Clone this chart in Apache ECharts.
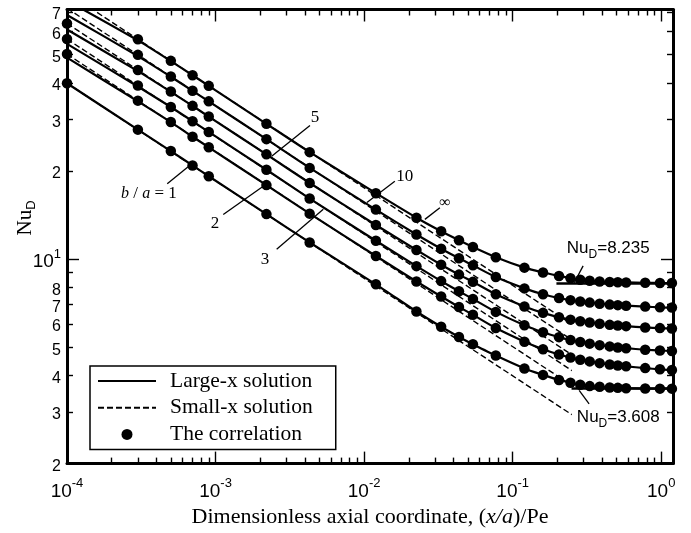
<!DOCTYPE html>
<html><head><meta charset="utf-8">
<script src="https://cdn.jsdelivr.net/npm/echarts@6/dist/echarts.min.js"></script>
<style>html,body{margin:0;padding:0;background:#fff}#c{width:691px;height:533px}</style>
</head><body><div id="c"></div>
<script>
// ---- data ----
const xDots = [1e-4, 3e-4, 5e-4, 7e-4, 9e-4, 2.2e-3, 4.3e-3, 1.2e-2, 2.25e-2, 3.3e-2, 4.35e-2, 5.4e-2, 7.7e-2, 0.12, 0.16, 0.205, 0.245, 0.285, 0.33, 0.385, 0.45, 0.51, 0.58, 0.78, 0.98, 1.18];
// correlation (dots); null = not visible in the plot
const dotA1   = [39.9, 27.7, 23.4, 20.9, 19.2, 14.25, 11.4, 8.2, 6.62, 5.87, 5.42, 5.12, 4.68, 4.23, 4.02, 3.86, 3.78, 3.72, 3.68, 3.66, 3.64, 3.63, 3.62, 3.61, 3.608, 3.608];
const dotA2   = [50.2, 34.8, 29.4, 26.2, 24.1, 17.9, 14.3, 10.25, 8.38, 7.45, 6.86, 6.45, 5.81, 5.22, 4.92, 4.72, 4.61, 4.53, 4.47, 4.41, 4.36, 4.33, 4.30, 4.24, 4.20, 4.18];
const dotA3   = [56.5, 39.2, 33.1, 29.6, 27.2, 20.2, 16.1, 11.55, 9.46, 8.41, 7.76, 7.31, 6.60, 5.94, 5.62, 5.41, 5.29, 5.21, 5.14, 5.08, 5.03, 4.99, 4.96, 4.90, 4.87, 4.85];
const dotA5   = [63.9, 44.3, 37.4, 33.4, 30.7, 22.8, 18.2, 13.08, 10.74, 9.57, 8.85, 8.36, 7.58, 6.89, 6.55, 6.33, 6.21, 6.13, 6.07, 6.01, 5.96, 5.93, 5.90, 5.84, 5.81, 5.79];
const dotA10  = [null, 49.9, 42.1, 37.6, 34.6, 25.7, 20.5, 14.76, 12.14, 10.85, 10.06, 9.52, 8.68, 7.94, 7.58, 7.36, 7.24, 7.16, 7.10, 7.04, 6.99, 6.96, 6.93, 6.88, 6.84, 6.83];
const dotAInf = [null, 56.4, 47.6, 42.5, 39.1, 29.0, 23.2, 16.8, 13.85, 12.45, 11.6, 11.0, 10.15, 9.35, 9.0, 8.76, 8.6, 8.5, 8.43, 8.38, 8.35, 8.33, 8.32, 8.30, 8.29, 8.28];

// large-x solution (solid lines); drops slightly below the dots at the smallest x
const xLarge = xDots;
const lgA1   = [39.9, 27.7, 23.4, 20.9, 19.2, 14.25, 11.4, 8.2, 6.62, 5.87, 5.42, 5.12, 4.68, 4.23, 4.02, 3.86, 3.78, 3.72, 3.68, 3.66, 3.64, 3.63, 3.62, 3.61, 3.608, 3.608];
const lgA2   = [48.8, 34.6, 29.4, 26.2, 24.1, 17.9, 14.3, 10.25, 8.38, 7.45, 6.86, 6.45, 5.81, 5.22, 4.92, 4.72, 4.61, 4.53, 4.47, 4.41, 4.36, 4.33, 4.30, 4.24, 4.20, 4.18];
const lgA3   = [54.4, 38.9, 33.1, 29.6, 27.2, 20.2, 16.1, 11.55, 9.46, 8.41, 7.76, 7.31, 6.60, 5.94, 5.62, 5.41, 5.29, 5.21, 5.14, 5.08, 5.03, 4.99, 4.96, 4.90, 4.87, 4.85];
const lgA5   = [60.9, 43.9, 37.3, 33.4, 30.7, 22.8, 18.2, 13.08, 10.74, 9.57, 8.85, 8.36, 7.58, 6.89, 6.55, 6.33, 6.21, 6.13, 6.07, 6.01, 5.96, 5.93, 5.90, 5.84, 5.81, 5.79];
const lgA10  = [68.3, 49.4, 42.0, 37.6, 34.6, 25.7, 20.5, 14.76, 12.14, 10.85, 10.06, 9.52, 8.68, 7.94, 7.58, 7.36, 7.24, 7.16, 7.10, 7.04, 6.99, 6.96, 6.93, 6.88, 6.84, 6.83];
const lgAInf = [76.5, 55.9, 47.5, 42.5, 39.1, 29.0, 23.2, 16.8, 13.85, 12.45, 11.6, 11.0, 10.15, 9.35, 9.0, 8.76, 8.6, 8.5, 8.43, 8.38, 8.35, 8.33, 8.32, 8.30, 8.29, 8.28];

// small-x solution (dashed lines)
const xSmall = [1e-4, 0.25];
const smA1   = [39.9, 2.94];
const smA2   = [50.2, 3.70];
const smA3   = [56.5, 4.16];
const smA5   = [63.9, 4.71];
const smA10  = [72.0, 5.30];
const smAInf = [81.4, 5.99];

const xMajorTicks = [1e-4, 1e-3, 1e-2, 1e-1, 1];
const xMinorTicks = [2e-4,3e-4,4e-4,5e-4,6e-4,7e-4,8e-4,9e-4, 2e-3,3e-3,4e-3,5e-3,6e-3,7e-3,8e-3,9e-3, 2e-2,3e-2,4e-2,5e-2,6e-2,7e-2,8e-2,9e-2, 0.2,0.3,0.4,0.5,0.6,0.7,0.8,0.9];
const yMajorTicks = [10];
const yMinorTicks = [3,4,5,6,7,8,9,20,30,40,50,60,70];
const yLabelValues = [2,3,4,5,6,7,8,10,20,30,40,50,60,70];

const X_MIN = 1e-4, X_MAX = 1.2, Y_MIN = 2, Y_MAX = 71.3;

// annotations (data coordinates)
const curveLabels = [
  {text: '{i|b}{n| / }{i|a}{n| = 1}', at: [3.56e-4, 16.7]},
  {text: '{n|5}', at: [4.67e-3, 30.4]},
  {text: '{n|2}', at: [9.91e-4, 13.25]},
  {text: '{n|3}', at: [2.15e-3, 9.99]},
  {text: '{n|10}', at: [1.88e-2, 19.2]},
  {text: '{m|∞}', at: [3.5e-2, 15.6]},
  {text: '{a|Nu}{s|D}{a|=8.235}', at: [0.44, 10.86]},
  {text: '{a|Nu}{s|D}{a|=3.608}', at: [0.514, 2.88]}
];
const leaderLines = [
  [[4.73e-4, 18.09], [6.73e-4, 20.93]],
  [[4.32e-3, 28.6], [2.385e-3, 22.45]],
  [[1.127e-3, 14.2], [2.094e-3, 17.75]],
  [[2.578e-3, 10.8], [5.31e-3, 14.79]],
  [[1.61e-2, 18.46], [1.044e-2, 15.62]],
  [[3.236e-2, 14.99], [2.565e-2, 13.67]],
  [[0.298, 9.48], [0.2594, 8.30]],
  [[0.2802, 3.56], [0.327, 3.20]]
];
const asymptoteLines = [
  [[0.197, 8.28], [1.2, 8.28]],
  [[0.249, 3.608], [1.2, 3.608]]
];

// ---- chart ----
const chart = echarts.init(document.getElementById('c'), null, {renderer: 'canvas'});
const zip = (xs, ys) => xs.map((x, i) => [x, ys[i]]).filter(p => p[1] != null);
const SANS = 'Liberation Sans', SERIF = 'Liberation Serif';

function xAxis(pos, ticks, len, line, labels) {
  return {
    type: 'log', logBase: 10, position: pos, min: X_MIN, max: X_MAX, gridIndex: 0,
    axisLine: {show: line, onZero: false, lineStyle: {color: '#000', width: 3}},
    axisTick: {show: true, inside: true, length: len, customValues: ticks, lineStyle: {color: '#000', width: 1.4}},
    axisLabel: labels ? {
      show: true, customValues: xMajorTicks, margin: 13,
      formatter: v => '{b|10}{s|' + Math.round(Math.log10(v)) + '}',
      rich: {
        b: {fontFamily: SANS, fontSize: 19, lineHeight: 30, color: '#000'},
        s: {fontFamily: SANS, fontSize: 13, lineHeight: 13, verticalAlign: 'top', color: '#000'}
      }
    } : {show: false},
    splitLine: {show: false},
    name: labels ? '{n|Dimensionless axial coordinate, (}{i|x/a}{n|)/Pe}' : '',
    nameLocation: 'middle', nameGap: 41,
    nameTextStyle: {rich: {
      n: {fontFamily: SERIF, fontSize: 22, color: '#000'},
      i: {fontFamily: SERIF, fontSize: 22, fontStyle: 'italic', color: '#000'}
    }}
  };
}
function yAxis(pos, ticks, len, line, labels) {
  return {
    type: 'log', logBase: 10, position: pos, min: Y_MIN, max: Y_MAX, gridIndex: 0,
    axisLine: {show: line, onZero: false, lineStyle: {color: '#000', width: 3}},
    axisTick: {show: true, inside: true, length: len, customValues: ticks, lineStyle: {color: '#000', width: 1.4}},
    axisLabel: labels ? {
      show: true, customValues: yLabelValues, margin: 6, padding: [6, 0, 0, 0],
      formatter: v => v === 10 ? '{b|10}{s|1}' : '{m|' + (v >= 20 ? Math.round(v / 10) : v) + '}',
      rich: {
        b: {fontFamily: SANS, fontSize: 19, lineHeight: 28, color: '#000'},
        s: {fontFamily: SANS, fontSize: 13, lineHeight: 13, verticalAlign: 'top', color: '#000'},
        m: {fontFamily: SANS, fontSize: 16, lineHeight: 18, color: '#000'}
      }
    } : {show: false},
    splitLine: {show: false}
  };
}

const larges = [lgA1, lgA2, lgA3, lgA5, lgA10, lgAInf];
const smalls = [smA1, smA2, smA3, smA5, smA10, smAInf];
const dots = [dotA1, dotA2, dotA3, dotA5, dotA10, dotAInf];
const series = [];
larges.forEach(c => series.push({
  name: 'Large-x solution', type: 'line', data: zip(xLarge, c), symbol: 'none',
  smooth: 0.2, lineStyle: {color: '#000', width: 2.2},
  itemStyle: {color: 'rgba(0,0,0,0)'}, z: 3, silent: true
}));
smalls.forEach(c => series.push({
  name: 'Small-x solution', type: 'line', data: zip(xSmall, c), symbol: 'none',
  lineStyle: {color: '#000', width: 1.4, type: [6, 3]},
  itemStyle: {color: 'rgba(0,0,0,0)'}, z: 2, silent: true
}));
dots.forEach(c => series.push({
  name: 'The correlation', type: 'scatter', data: zip(xDots, c), symbol: 'circle', symbolSize: 10.5,
  itemStyle: {color: '#000', opacity: 1}, z: 4, silent: true, clip: false
}));
series.push({
  name: 'annotations', type: 'line', data: [], silent: true, z: 5,
  markLine: {
    silent: true, symbol: ['none', 'none'], animation: false, label: {show: false},
    lineStyle: {color: '#000', width: 1.3, type: 'solid'},
    data: leaderLines.map(s => [{coord: s[0]}, {coord: s[1]}])
      .concat(asymptoteLines.map(s => [{coord: s[0], lineStyle: {width: 2.6}}, {coord: s[1]}]))
  },
  markPoint: {
    silent: true, animation: false, symbol: 'rect', symbolSize: 1, itemStyle: {color: 'rgba(0,0,0,0)'},
    label: {show: true, position: 'inside', color: '#000',
      rich: {
        i: {fontFamily: SERIF, fontSize: 16, fontStyle: 'italic', color: '#000'},
        n: {fontFamily: SERIF, fontSize: 17, color: '#000'},
        m: {fontFamily: SERIF, fontSize: 16, color: '#000'},
        a: {fontFamily: SANS, fontSize: 17, lineHeight: 24, color: '#000'},
        s: {fontFamily: SANS, fontSize: 12, lineHeight: 12, verticalAlign: 'bottom', color: '#000'}
      }},
    data: curveLabels.map(l => ({coord: l.at, value: 0, label: {formatter: l.text}}))
  }
});

chart.setOption({
  animation: false,
  backgroundColor: '#fff',
  grid: {left: 67, top: 9.5, right: 18, bottom: 68, containLabel: false},
  xAxis: [
    xAxis('bottom', xMajorTicks, 12, true, true),
    xAxis('bottom', xMinorTicks, 6, false, false),
    xAxis('top', xMajorTicks, 12, true, false),
    xAxis('top', xMinorTicks, 6, false, false)
  ],
  yAxis: [
    yAxis('left', yMajorTicks, 12, true, true),
    yAxis('left', yMinorTicks, 6, false, false),
    yAxis('right', yMajorTicks, 12, true, false),
    yAxis('right', yMinorTicks, 6, false, false)
  ],
  legend: {
    data: [
      {name: 'Large-x solution', itemStyle: {color: 'rgba(0,0,0,0)', opacity: 0}},
      {name: 'Small-x solution', itemStyle: {color: 'rgba(0,0,0,0)', opacity: 0}},
      {name: 'The correlation'}
    ],
    orient: 'vertical', left: 90, top: 366,
    itemWidth: 58, itemHeight: 11, itemGap: 4.7,
    padding: [4, 23, 4, 7],
    borderColor: '#000', borderWidth: 1.5, backgroundColor: '#fff',
    selectedMode: false,
    textStyle: {fontFamily: SERIF, fontSize: 21.5, color: '#000', lineHeight: 22, padding: [0, 0, 0, 9]}
  },
  graphic: [{
    type: 'text', x: 25, y: 218, rotation: Math.PI / 2, silent: true,
    style: {
      text: '{a|Nu}{s|D}', align: 'center', verticalAlign: 'middle',
      rich: {
        a: {fontFamily: SERIF, fontSize: 21, lineHeight: 26, fill: '#000'},
        s: {fontFamily: SANS, fontSize: 13, lineHeight: 13, verticalAlign: 'bottom', fill: '#000'}
      }
    }
  }],
  series: series
});
</script>
</body></html>
